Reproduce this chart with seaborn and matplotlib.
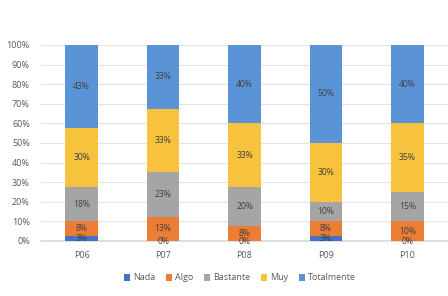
import matplotlib
matplotlib.use("Agg")
import matplotlib.pyplot as plt
import seaborn as sns
import pandas as pd
import numpy as np
from matplotlib.patches import Patch
from matplotlib.ticker import PercentFormatter

categories = ["P06", "P07", "P08", "P09", "P10"]
nada = [2.5, 0, 0, 2.5, 0]
algo = [7.5, 12.5, 7.5, 7.5, 10]
bastante = [17.5, 22.5, 20, 10, 15]
muy = [30, 32.5, 32.5, 30, 35]
totalmente = [42.5, 32.5, 40, 50, 40]

series_names = ["Nada", "Algo", "Bastante", "Muy", "Totalmente"]
series_vals = [nada, algo, bastante, muy, totalmente]
colors = ["#4472C4", "#EB7D34", "#A5A5A5", "#F7C23E", "#5B94D6"]

sns.set_theme(style="white")
plt.rcParams['font.family'] = ['Open Sans', 'DejaVu Sans']

fig = plt.figure(figsize=(4.48, 2.96), dpi=100)
ax = fig.add_axes([41/448, 1-241/296, 1-41/448, (241-45)/296])

cum = np.cumsum(np.array(series_vals), axis=0)
# draw from top layer down so lower layers overlay
for i in range(len(series_names)-1, -1, -1):
    df = pd.DataFrame({"cat": categories, "val": cum[i]})
    sns.barplot(data=df, x="cat", y="val", color=colors[i], width=0.4,
                saturation=1, ax=ax, zorder=3, linewidth=0, edgecolor="none")

# data labels
for i, vals in enumerate(series_vals):
    base = cum[i] - np.array(vals)
    for j, v in enumerate(vals):
        lab = f"{int(np.floor(v + 0.5))}%"
        ax.text(j, base[j] + v/2, lab, ha="center", va="center",
                fontsize=6.2, color="#404040", zorder=5)

ax.set_ylim(0, 100)
ax.set_xlim(-0.5, 4.5)
ax.set_yticks(range(0, 101, 10))
ax.yaxis.set_major_formatter(PercentFormatter(decimals=0))
ax.grid(axis="y", color="#E3E3E3", linewidth=0.8, zorder=0)
ax.set_axisbelow(True)
for s in ["top", "right", "left"]:
    ax.spines[s].set_visible(False)
ax.spines["bottom"].set_color("#D9D9D9")
ax.set_xlabel("")
ax.set_ylabel("")
ax.tick_params(axis="both", labelsize=6.5, colors="#595959", length=0)
ax.tick_params(axis="x", pad=7)
ax.tick_params(axis="y", pad=8)

handles = [Patch(facecolor=c, edgecolor="none") for c in colors]
fig.legend(handles, series_names, loc="center", bbox_to_anchor=(240/448, 1-278/296),
           ncol=5, frameon=False, fontsize=6.5, handlelength=0.7, handleheight=0.7,
           handletextpad=0.3, columnspacing=1.2, labelcolor="#595959")

fig.savefig("out.png", dpi=100)
